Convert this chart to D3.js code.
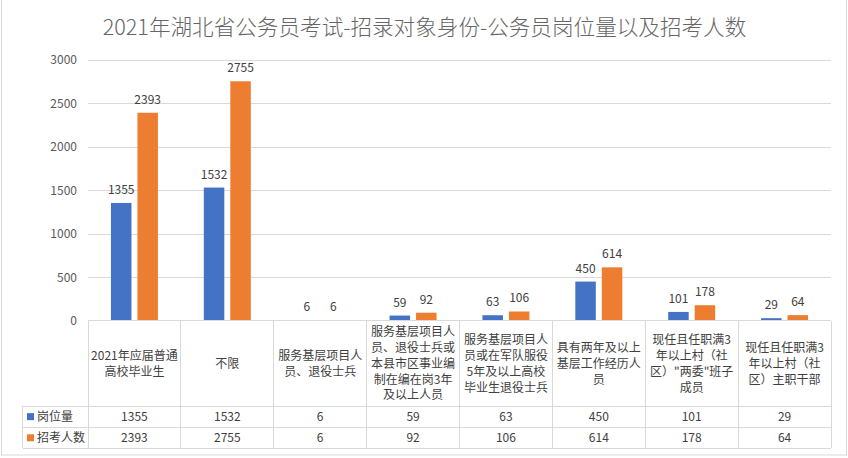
<!DOCTYPE html>
<html>
<head>
<meta charset="utf-8">
<script src="https://cdn.jsdelivr.net/npm/d3@7"></script>
<style>
  html, body { margin: 0; padding: 0; background: #fff; }
  svg { display: block; font-family: "Noto Sans CJK SC", "Microsoft YaHei", sans-serif; }
</style>
</head>
<body>
<svg id="chart" width="848" height="458"></svg>
<script>
const title = "2021年湖北省公务员考试-招录对象身份-公务员岗位量以及招考人数";
// "\n" marks where the reference wraps each category label
const categories = [
  "2021年应届普通\n高校毕业生",
  "不限",
  "服务基层项目人\n员、退役士兵",
  "服务基层项目人\n员、退役士兵或\n本县市区事业编\n制在编在岗3年\n及以上人员",
  "服务基层项目人\n员或在军队服役\n5年及以上高校\n毕业生退役士兵",
  "具有两年及以上\n基层工作经历人\n员",
  "现任且任职满3\n年以上村（社\n区）\"两委\"班子\n成员",
  "现任且任职满3\n年以上村（社\n区）主职干部"
];
const seriesNames = ["岗位量", "招考人数"];
const positions = [1355, 1532, 6, 59, 63, 450, 101, 29];
const applicants = [2393, 2755, 6, 92, 106, 614, 178, 64];
const yTicks = [0, 500, 1000, 1500, 2000, 2500, 3000];
const colors = ["#4472C4", "#ED7D31"];

(function () {
const seriesValues = [positions, applicants];
const svg = d3.select("#chart");
const gridColor = "#d9d9d9";
const textColor = "#404040";

// chart border
svg.append("rect").attr("x", 1.5).attr("y", -2).attr("width", 845).attr("height", 457)
  .attr("fill", "none").attr("stroke", gridColor);

// title
svg.append("text").attr("x", 424.5).attr("y", 34.5).attr("text-anchor", "middle")
  .attr("font-size", 21.6).attr("font-weight", 300).attr("fill", "#666666").text(title);

const plotLeft = 88, plotRight = 831, plotTop = 60, plotBottom = 320.7;
const x0 = d3.scaleBand().domain(d3.range(categories.length)).range([plotLeft, plotRight]).padding(0);
const groupW = 47;
const x1 = d3.scaleBand().domain(d3.range(seriesNames.length)).range([0, groupW]).paddingInner(0.226);
const y = d3.scaleLinear().domain([0, 3000]).range([plotBottom, plotTop]);

// gridlines
svg.append("g").selectAll("line").data(yTicks.filter(d => d > 0)).join("line")
  .attr("x1", plotLeft).attr("x2", plotRight)
  .attr("y1", d => Math.round(y(d)) + 0.5).attr("y2", d => Math.round(y(d)) + 0.5)
  .attr("stroke", gridColor);

// y axis labels
const yAxis = d3.axisLeft(y).tickValues(yTicks).tickFormat(d3.format("d")).tickSize(0).tickPadding(0);
const ya = svg.append("g").attr("transform", "translate(77,0)").call(yAxis);
ya.select(".domain").remove();
ya.selectAll("text").attr("font-size", 12).attr("fill", "#595959")
  .attr("font-family", "\"Noto Sans CJK SC\", sans-serif");

// bars
const groups = svg.append("g").selectAll("g").data(categories.map((c, i) => i)).join("g")
  .attr("transform", i => `translate(${x0(i) + x0.bandwidth() / 2 - groupW / 2},0)`);
groups.selectAll("rect").data(i => seriesValues.map((s, k) => ({ k, v: s[i] }))).join("rect")
  .attr("x", d => x1(d.k)).attr("width", x1.bandwidth())
  .attr("y", d => y(d.v)).attr("height", d => plotBottom - y(d.v))
  .attr("fill", d => colors[d.k]);
groups.selectAll("text").data(i => seriesValues.map((s, k) => ({ k, v: s[i] }))).join("text")
  .attr("x", d => x1(d.k) + x1.bandwidth() / 2).attr("y", d => y(d.v) - 9)
  .attr("text-anchor", "middle").attr("font-size", 12).attr("fill", textColor)
  .text(d => d.v);

// data table
const headerTop = 320.7, row1 = 406, row2 = 427.3, row3 = 448.3, legendLeft = 22.7;
const tbl = svg.append("g").attr("stroke", gridColor).attr("shape-rendering", "crispEdges");
tbl.append("line").attr("x1", plotLeft).attr("x2", plotRight).attr("y1", headerTop).attr("y2", headerTop);
[row1, row2, row3].forEach(yy => tbl.append("line").attr("x1", legendLeft).attr("x2", plotRight).attr("y1", yy).attr("y2", yy));
tbl.append("line").attr("x1", legendLeft).attr("x2", legendLeft).attr("y1", row1).attr("y2", row3);
const vx = d3.range(categories.length + 1).map(i => i < categories.length ? x0(i) : plotRight);
tbl.selectAll("line.v").data(vx).join("line").attr("class", "v")
  .attr("x1", d => d).attr("x2", d => d).attr("y1", headerTop).attr("y2", row3);

// header labels
const lh = 15.9;
categories.forEach((c, i) => {
  const lines = c.split("\n");
  const cx = x0(i) + x0.bandwidth() / 2;
  const cy = (headerTop + row1) / 2;
  const t = svg.append("text").attr("text-anchor", "middle").attr("font-size", 12).attr("fill", textColor);
  lines.forEach((l, j) => {
    t.append("tspan").attr("x", cx).attr("y", cy + (j - (lines.length - 1) / 2) * lh + 4.3).text(l);
  });
});

// legend + value rows
const rowsY = [(row1 + row2) / 2, (row2 + row3) / 2];
seriesNames.forEach((name, k) => {
  svg.append("rect").attr("x", 27).attr("y", rowsY[k] - 3.5).attr("width", 7).attr("height", 7).attr("fill", colors[k]);
  svg.append("text").attr("x", 37).attr("y", rowsY[k] + 4.5).attr("font-size", 12).attr("fill", textColor).text(name);
  svg.append("g").selectAll("text").data(seriesValues[k]).join("text")
    .attr("x", (d, i) => x0(i) + x0.bandwidth() / 2).attr("y", rowsY[k] + 4.5)
    .attr("text-anchor", "middle").attr("font-size", 12).attr("fill", textColor).text(d => d);
});
})();
</script>
</body>
</html>
